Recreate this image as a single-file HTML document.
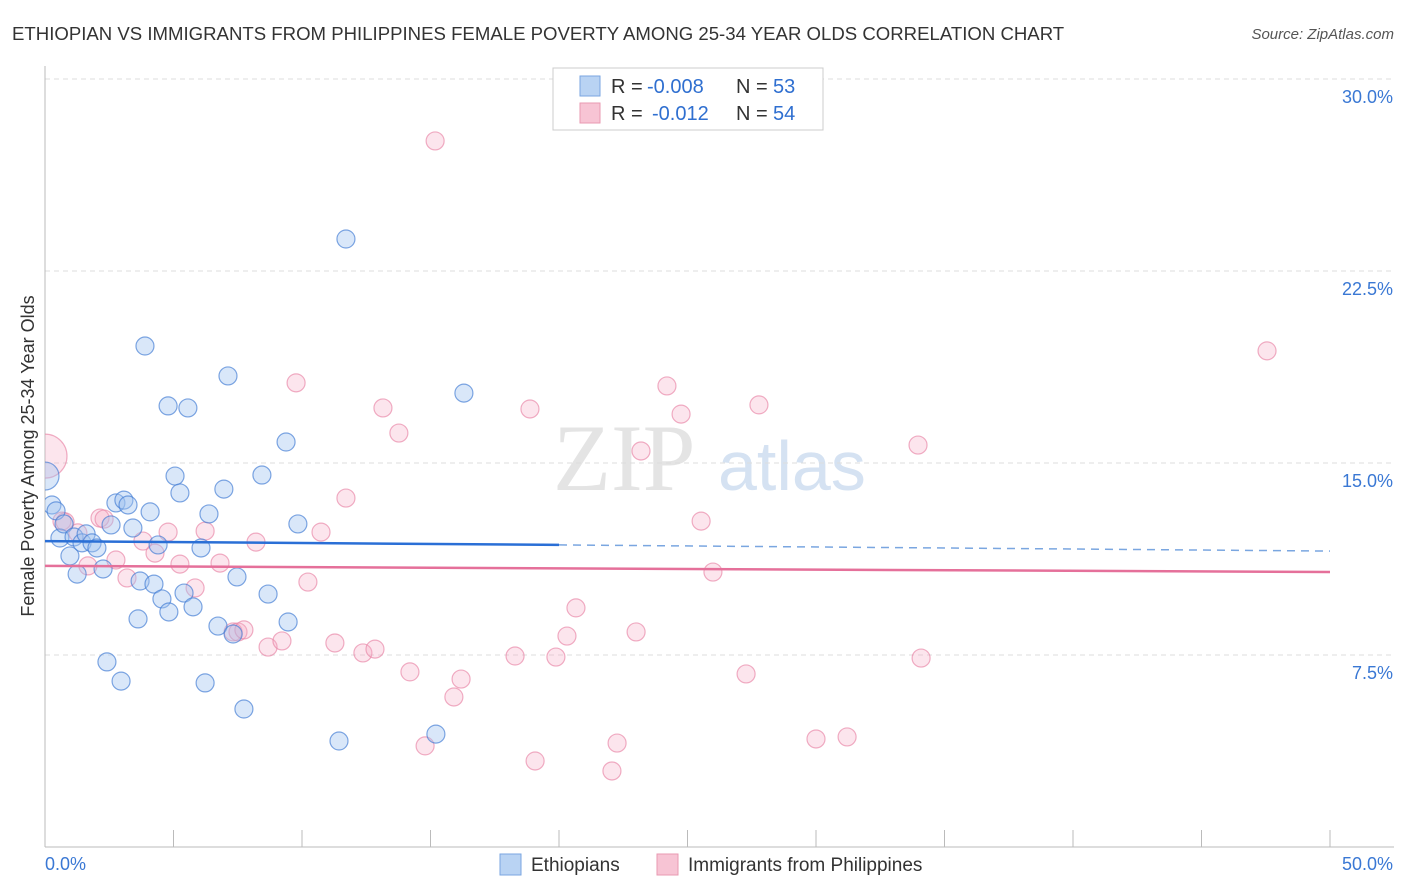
<!DOCTYPE html>
<html><head><meta charset="utf-8">
<style>
body{margin:0;background:#fff;font-family:"Liberation Sans",sans-serif;}
svg{display:block}
</style></head>
<body>
<svg id="chart" width="1406" height="892" xmlns="http://www.w3.org/2000/svg">
<defs><clipPath id="plotclip"><rect x="45" y="60" width="1360" height="787"/></clipPath></defs>
<text x="12" y="40" font-size="18.6" fill="#333">ETHIOPIAN VS IMMIGRANTS FROM PHILIPPINES FEMALE POVERTY AMONG 25-34 YEAR OLDS CORRELATION CHART</text>
<text x="1394" y="39" font-size="15" font-style="italic" fill="#555" text-anchor="end">Source: ZipAtlas.com</text>
<text x="0" y="0" font-size="18" fill="#333" text-anchor="middle" transform="translate(34,456) rotate(-90)">Female Poverty Among 25-34 Year Olds</text>
<g><text x="553" y="490" font-size="95" font-family="Liberation Serif,serif" fill="#e4e4e4">ZIP</text><text x="718" y="490" font-size="70" fill="#d5e2f2">atlas</text></g>
<g id="grid"></g><g id="axes"></g><g id="pts" clip-path="url(#plotclip)"></g><g id="trend"></g>
<g>
<rect x="553" y="68" width="270" height="62" fill="#fff" stroke="#ccc"/>
<rect x="580" y="76" width="20" height="20" fill="#b9d3f3" stroke="#7aa6e0"/>
<rect x="580" y="103" width="20" height="20" fill="#f7c4d4" stroke="#e89ab2"/>
<g font-size="20">
<text x="611" y="93" fill="#333">R =</text><text x="647" y="93" fill="#2f6fd0">-0.008</text><text x="736" y="93" fill="#333">N =</text><text x="773" y="93" fill="#2f6fd0">53</text></g>
<g font-size="20">
<text x="611" y="120" fill="#333">R =</text><text x="652" y="120" fill="#2f6fd0">-0.012</text><text x="736" y="120" fill="#333">N =</text><text x="773" y="120" fill="#2f6fd0">54</text></g>
</g>
<g>
<rect x="500" y="854" width="21" height="21" fill="#b9d3f3" stroke="#7aa6e0"/>
<text x="531" y="871" font-size="19" fill="#333">Ethiopians</text>
<rect x="657" y="854" width="21" height="21" fill="#f7c4d4" stroke="#e89ab2"/>
<text x="688" y="871" font-size="19" fill="#333">Immigrants from Philippines</text>
</g>
</svg>
<script>
const xTicks=[0,5,10,15,20,25,30,35,40,45,50];
const yTicks=[7.5,15,22.5,30];
const blueX=[0.27,0.43,0.58,0.74,0.97,1.13,1.25,1.44,1.60,1.83,2.02,2.26,2.41,2.57,2.76,2.96,3.07,3.23,3.42,3.62,3.70,3.89,4.09,4.24,4.40,4.55,4.79,4.82,5.06,5.25,5.41,5.56,5.76,6.07,6.23,6.38,6.73,6.96,7.12,7.32,7.47,7.74,8.44,8.68,9.38,9.46,9.84,11.44,11.71,15.21,16.30,0.0];
const blueY=[13.36,13.13,12.07,12.62,11.37,12.11,10.66,11.88,12.23,11.88,11.68,10.86,7.23,12.58,13.44,6.48,13.55,13.36,12.46,8.91,10.39,19.57,13.09,10.27,11.80,9.69,17.23,9.18,14.49,13.83,9.92,17.15,9.38,11.68,6.41,13.01,8.63,13.98,18.40,8.32,10.55,5.39,14.53,9.88,15.82,8.79,12.62,4.14,23.75,4.41,17.73,14.49];
const blueR=[9,9,9,9,9,9,9,9,9,9,9,9,9,9,9,9,9,9,9,9,9,9,9,9,9,9,9,9,9,9,9,9,9,9,9,9,9,9,9,9,9,9,9,9,9,9,9,9,9,9,9,14];
const pinkX=[0,0.66,0.78,1.28,1.67,2.14,2.30,2.76,3.19,3.81,4.28,4.79,5.25,5.84,6.23,6.81,7.32,7.51,7.74,8.21,8.68,9.22,9.77,10.23,10.74,11.28,11.71,12.37,12.84,13.15,13.77,14.20,14.79,15.18,15.91,16.19,18.29,18.87,19.07,19.88,20.31,20.66,22.06,22.26,23.00,23.19,24.20,24.75,25.53,25.99,27.28,27.78,30.00,31.21,33.97,34.09,47.55];
const pinkY=[15.27,12.73,12.70,12.27,10.98,12.85,12.81,11.21,10.51,11.95,11.48,12.30,11.05,10.12,12.34,11.09,8.40,8.40,8.48,11.91,7.81,8.05,18.13,10.35,12.30,7.97,13.63,7.58,7.73,17.15,16.17,6.84,3.95,27.58,5.86,6.56,7.46,17.11,3.36,7.42,8.24,9.34,2.97,4.06,8.40,15.47,18.01,16.91,12.73,10.74,6.76,17.27,4.22,4.30,15.70,7.38,19.38];
const blueTrend=[11.95,11.80,11.56];
const pinkTrend=[10.98,10.74];
const X=v=>45+v*25.7, Y=v=>847-v*25.6;
const NS="http://www.w3.org/2000/svg";
function mk(tag,attrs,parent){const e=document.createElementNS(NS,tag);for(const k in attrs)e.setAttribute(k,attrs[k]);document.getElementById(parent).appendChild(e);return e;}
yTicks.forEach(t=>{
 const l=mk('line',{x1:45,x2:1394,y1:Y(t),y2:Y(t),stroke:'#ddd','stroke-dasharray':'5,4'},'grid');
 
 
 const tx=mk('text',{x:1393,y:Y(t)+24,'font-size':18,fill:'#3a78d4','text-anchor':'end'},'grid');
 tx.textContent=t.toFixed(1)+'%';
 
 
});
const ax=mk('line',{x1:45,x2:45,y1:66,y2:847,stroke:'#bbb'},'axes');


const bx=mk('line',{x1:45,x2:1394,y1:847,y2:847,stroke:'#bbb'},'axes');


xTicks.forEach(t=>{
 const l=mk('line',{x1:X(t),x2:X(t),y1:830,y2:847,stroke:'#bbb'},'axes');
 
 
});
[[0,'0.0%','start',45],[50,'50.0%','end',1393]].forEach(a=>{
 const tx=mk('text',{x:a[3],y:870,'font-size':18,fill:'#3a78d4','text-anchor':a[2]},'axes');
 tx.textContent=a[1];
 
 
});
pinkX.forEach((x,i)=>{
 const c=mk('circle',{cx:X(x),cy:Y(pinkY[i]),r:i===0?22:9,fill:'rgba(244,170,195,0.3)',stroke:'rgba(232,130,165,0.65)','stroke-width':1.2},'pts');
 
 
});
blueX.forEach((x,i)=>{
 const c=mk('circle',{cx:X(x),cy:Y(blueY[i]),r:blueR[i],fill:'rgba(160,195,240,0.4)',stroke:'rgba(60,120,210,0.65)','stroke-width':1.2},'pts');
 
 
});
const t1=mk('line',{x1:X(0),x2:X(20),y1:Y(blueTrend[0]),y2:Y(blueTrend[1]),stroke:'#2a6fd6','stroke-width':2.5},'trend');


const t2=mk('line',{x1:X(20),x2:X(50),y1:Y(blueTrend[1]),y2:Y(blueTrend[2]),stroke:'#7aa6e0','stroke-width':1.5,'stroke-dasharray':'8,6'},'trend');


const t3=mk('line',{x1:X(0),x2:X(50),y1:Y(pinkTrend[0]),y2:Y(pinkTrend[1]),stroke:'#e5709a','stroke-width':2.5},'trend');


</script>
</body></html>
